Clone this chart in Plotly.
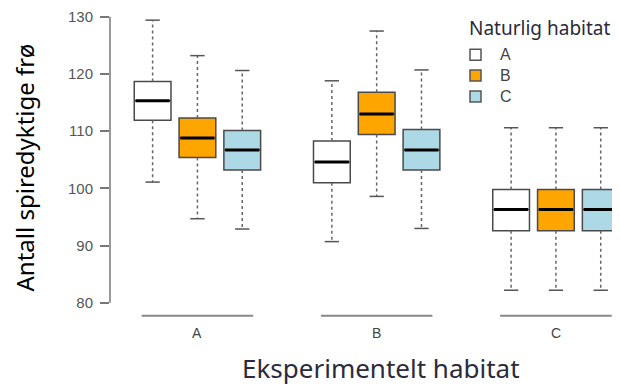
import plotly.graph_objects as go

# ---- data ----
exp_groups = ["A", "B", "C"]          # Eksperimentelt habitat
nat_habitats = ["A", "B", "C"]        # Naturlig habitat
colors = ["#FFFFFF", "#FFA500", "#ADD8E6"]

lower = {"A": [101.1, 94.7, 92.9], "B": [90.7, 98.6, 93.0], "C": [82.2, 82.2, 82.2]}
q1 = {"A": [111.9, 105.4, 103.2], "B": [101.0, 109.4, 103.2], "C": [92.6, 92.6, 92.6]}
median = {"A": [115.3, 108.8, 106.7], "B": [104.6, 113.0, 106.7], "C": [96.3, 96.3, 96.3]}
q3 = {"A": [118.7, 112.3, 110.1], "B": [108.3, 116.8, 110.3], "C": [99.8, 99.8, 99.8]}
upper = {"A": [129.4, 123.2, 120.6], "B": [118.8, 127.5, 120.7], "C": [110.6, 110.6, 110.6]}

y_ticks = [80, 90, 100, 110, 120, 130]

# ---- layout constants (page body has an 8px margin) ----
OFF = 8
W, H = 620 - OFF, 387 - OFF
ML, MR, MT, MB = 110 - OFF, 0, 9 - OFF, 67
BOXW = 0.82
CAPW = 0.32

def px2paper_x(px):
    return (px - OFF - ML) / (W - ML - MR)

def px2paper_y(py):
    return (H - MB - (py - OFF)) / (H - MT - MB)

fig = go.Figure()

wx, wy, cx, cy, mx, my = [], [], [], [], [], []
for gi, g in enumerate(exp_groups):
    for hi, h in enumerate(nat_habitats):
        pos = 1 + gi * 4 + hi
        fig.add_trace(go.Box(
            x=[pos], q1=[q1[g][hi]], median=[median[g][hi]], q3=[q3[g][hi]],
            lowerfence=[q1[g][hi]], upperfence=[q3[g][hi]],
            width=BOXW, fillcolor=colors[hi],
            line=dict(color="#4a4a4a", width=1.5),
            boxpoints=False, showlegend=False, hoverinfo="skip",
        ))
        wx += [pos, pos, None, pos, pos, None]
        wy += [q3[g][hi], upper[g][hi], None, q1[g][hi], lower[g][hi], None]
        cx += [pos - CAPW / 2, pos + CAPW / 2, None, pos - CAPW / 2, pos + CAPW / 2, None]
        cy += [upper[g][hi], upper[g][hi], None, lower[g][hi], lower[g][hi], None]
        mx += [pos - BOXW / 2 + 0.03, pos + BOXW / 2 - 0.03, None]
        my += [median[g][hi], median[g][hi], None]

fig.add_trace(go.Scatter(x=wx, y=wy, mode="lines", line=dict(color="#666666", width=1.5, dash="3px,3px"),
                         showlegend=False, hoverinfo="skip"))
fig.add_trace(go.Scatter(x=cx, y=cy, mode="lines", line=dict(color="#555555", width=1.5),
                         showlegend=False, hoverinfo="skip"))
fig.add_trace(go.Scatter(x=mx, y=my, mode="lines", line=dict(color="#000000", width=3),
                         showlegend=False, hoverinfo="skip"))

shapes = []
annotations = []
# y axis line (80 -> 130)
shapes.append(dict(type="line", xref="paper", yref="y", x0=0, x1=0, y0=y_ticks[0], y1=y_ticks[-1],
                   line=dict(color="#777777", width=1.5)))
# group lines and labels
for gi, g in enumerate(exp_groups):
    center = 2 + gi * 4
    shapes.append(dict(type="line", xref="x", yref="paper", x0=center - 1.245, x1=center + 1.245,
                       y0=px2paper_y(315.7), y1=px2paper_y(315.7),
                       line=dict(color="#888888", width=2)))
    annotations.append(dict(x=center, y=px2paper_y(333), xref="x", yref="paper", text=g,
                            showarrow=False, xanchor="center", yanchor="middle",
                            font=dict(family="Liberation Sans, Arial", size=14, color="#444444")))

# legend (manual)
annotations.append(dict(x=px2paper_x(467), y=px2paper_y(26.5), xref="paper", yref="paper",
                        text="Naturlig habitat", showarrow=False, xanchor="left", yanchor="middle",
                        font=dict(family="Noto Sans", size=19, color="#2a2a3c")))
leg_y = [53, 74, 95]
for hi, h in enumerate(nat_habitats):
    shapes.append(dict(type="rect", xref="paper", yref="paper",
                       x0=px2paper_x(470), x1=px2paper_x(481),
                       y0=px2paper_y(leg_y[hi] + 5.5), y1=px2paper_y(leg_y[hi] - 5.5),
                       fillcolor=colors[hi], line=dict(color="#555555", width=1.5)))
    annotations.append(dict(x=px2paper_x(498), y=px2paper_y(leg_y[hi]), xref="paper", yref="paper",
                            text=h, showarrow=False, xanchor="left", yanchor="middle",
                            font=dict(family="Liberation Sans, Arial", size=16, color="#444444")))

# axis titles
annotations.append(dict(x=px2paper_x(381), y=px2paper_y(368), xref="paper", yref="paper",
                        text="Eksperimentelt habitat", showarrow=False, xanchor="center", yanchor="middle",
                        font=dict(family="Noto Sans", size=26, color="#2b2b3b")))
annotations.append(dict(x=px2paper_x(24.5), y=px2paper_y(167), xref="paper", yref="paper",
                        text="Antall spiredyktige frø", showarrow=False, textangle=-90,
                        xanchor="center", yanchor="middle",
                        font=dict(family="Noto Sans", size=24, color="#000000")))

fig.update_layout(
    width=W, height=H,
    margin=dict(l=ML, r=MR, t=MT, b=MB),
    paper_bgcolor="white", plot_bgcolor="white",
    showlegend=False,
    xaxis=dict(range=[0.049, 11.43], showgrid=False, zeroline=False, showticklabels=False,
               ticks="", showline=False),
    yaxis=dict(range=[77, 131], tickvals=y_ticks, ticktext=[str(v) for v in y_ticks],
               showgrid=False, zeroline=False, showline=False,
               ticks="outside", ticklen=9, tickwidth=1.5, tickcolor="#777777",
               ticklabeloverflow="allow", ticklabelstandoff=4,
               tickfont=dict(family="Liberation Sans, Arial", size=15, color="#555555")),
    shapes=shapes, annotations=annotations,
)

fig.write_html("out.html")
